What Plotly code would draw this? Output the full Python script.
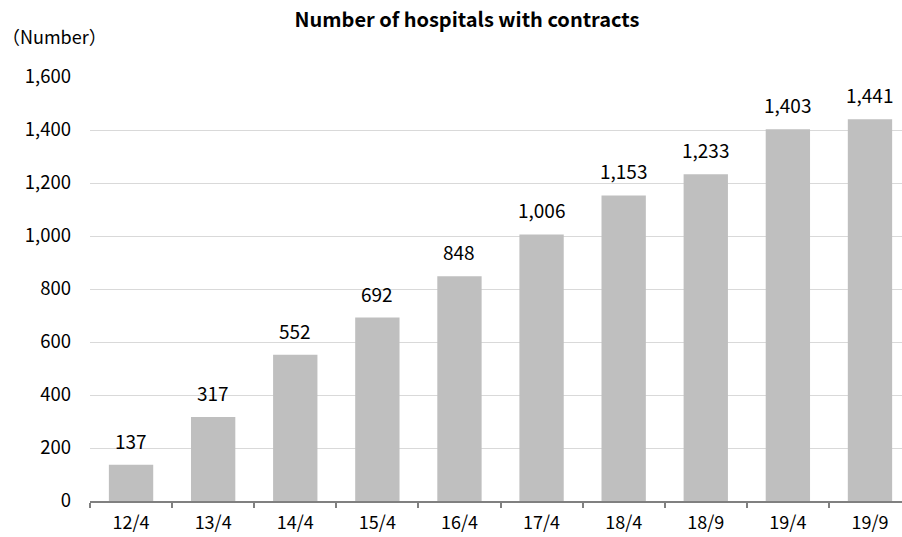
import plotly.graph_objects as go

categories = ["12/4", "13/4", "14/4", "15/4", "16/4", "17/4", "18/4", "18/9", "19/4", "19/9"]
hospitals = [137, 317, 552, 692, 848, 1006, 1153, 1233, 1403, 1441]
y_ticks = [0, 200, 400, 600, 800, 1000, 1200, 1400, 1600]
y_tick_labels = [f"{v:,}" for v in y_ticks]

FONT = "Noto Sans CJK JP"
PLOT_LEFT = 90
PLOT_WIDTH = 812

fig = go.Figure()
fig.add_trace(go.Bar(
    x=categories,
    y=hospitals,
    marker=dict(color="#BFBFBF", line=dict(width=0)),
    hoverinfo="x+y",
))

# value labels above each bar
for c, v in zip(categories, hospitals):
    fig.add_annotation(
        x=c, y=v, text=f"{v:,}", showarrow=False,
        yanchor="bottom", yshift=9,
        font=dict(family=FONT, size=19, color="#000000"),
    )

# unit label above the y axis
fig.add_annotation(
    xref="paper", yref="paper", x=(0 - PLOT_LEFT) / PLOT_WIDTH, y=1.0, yshift=41,
    xanchor="left", yanchor="middle", showarrow=False,
    text="（Number）", font=dict(family=FONT, size=18, color="#000000"),
)

fig.update_layout(
    width=902, height=537,
    margin=dict(l=PLOT_LEFT, r=0, t=77, b=36, autoexpand=False),
    paper_bgcolor="white", plot_bgcolor="white",
    bargap=0.46,
    showlegend=False,
    title=dict(
        text="<b>Number of hospitals with contracts</b>",
        x=467 / 902, xanchor="center", xref="container",
        y=1 - 20 / 537, yanchor="middle", yref="container",
        font=dict(family=FONT, size=20, color="#000000"),
    ),
    xaxis=dict(
        type="category",
        range=[-0.5, 9.39],
        automargin=False,
        showgrid=False,
        showline=True, linecolor="#808080", linewidth=2,
        ticks="outside", tickson="boundaries", ticklen=5, tickwidth=2, tickcolor="#808080",
        ticklabelstandoff=4,
        tickfont=dict(family=FONT, size=18, color="#000000"),
        fixedrange=True,
    ),
    yaxis=dict(
        range=[0, 1600],
        automargin=False,
        tickvals=y_ticks, ticktext=y_tick_labels,
        showgrid=True, gridcolor="#D9D9D9", gridwidth=1,
        zeroline=False, showline=False,
        ticks="", ticklabelstandoff=18,
        tickfont=dict(family=FONT, size=18.5, color="#000000"),
        fixedrange=True,
    ),
)

fig.write_html("out.html")
